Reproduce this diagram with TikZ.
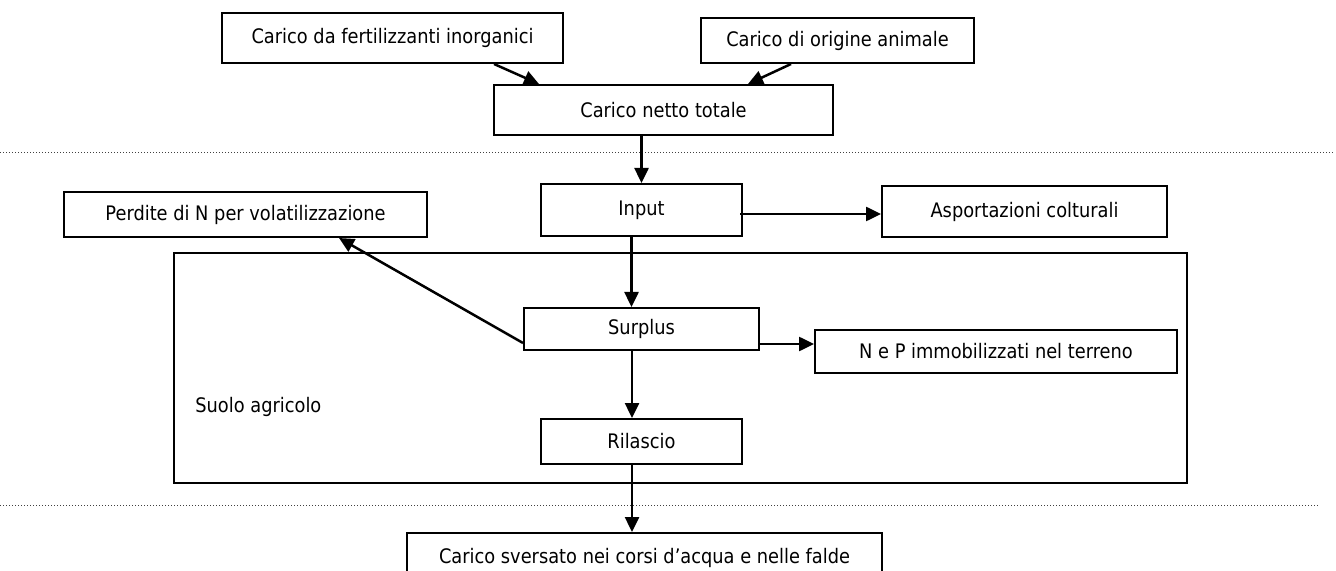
\documentclass[tikz,border=0pt]{standalone}
\usepackage{fontspec}
\setmainfont{DejaVu Sans}[FakeStretch=0.89]
\usepackage{tikz}
\usetikzlibrary{positioning,arrows.meta}
\tikzset{%
  flowBox/.style={%
    rectangle,
    draw=black,
    line width=1pt,
    inner sep=2pt,
    align=center,
    font=\fontsize{10}{12}\selectfont
  },
  flowArrow/.style={%
    -{Triangle[length=7.5pt,width=7pt]},
    line width=1.25pt
  },
  sepLine/.style={%
    line width=0.5pt,
    dash pattern=on 0.5pt off 1pt,
    color=black!75
  },
  soilBox/.style={%
    rectangle,
    draw=black,
    line width=0.85pt
  }
}

\begin{document}
\begin{tikzpicture}[x=0.5pt,y=-0.5pt]
  \useasboundingbox (0,0) rectangle (1336,571);

  % suolo agricolo
  \node[soilBox, minimum width=506.5pt, minimum height=115pt] (suolo) at (680.5,368) {};
  \node[anchor=west, inner sep=0pt, font=\fontsize{10}{12}\selectfont] (suoloLbl) at (195,407) {Suolo agricolo};

  % separatori
  \coordinate (topSepL) at (0,153);
  \coordinate (topSepR) at (1333,153);
  \coordinate (lowSepL) at (0,505);
  \coordinate (lowSepR) at (1320,505);
  \draw[sepLine] (topSepL) -- (topSepR);
  \draw[sepLine] (lowSepL) -- (lowSepR);

  % carichi in ingresso
  \node[flowBox, minimum width=170.5pt, minimum height=25pt] (fert) at (392.5,38) {Carico da fertilizzanti inorganici};
  \node[flowBox, minimum width=136.5pt, minimum height=22.5pt, right=68pt of fert, yshift=-1.25pt] (anim) {Carico di origine animale};
  \node[flowBox, minimum width=169.5pt, minimum height=25pt] (netto) at (663.5,110) {Carico netto totale};

  \draw[flowArrow] ([xshift=-35pt]fert.south east) -- ([xshift=23pt]netto.north west);
  \draw[flowArrow] ([xshift=45.5pt]anim.south west) -- ([xshift=-43pt]netto.north east);

  % bilancio nel suolo
  \node[flowBox, minimum width=100.5pt, minimum height=26pt] (input) at (641.5,210) {Input};
  \node[flowBox, minimum width=142.5pt, minimum height=25.5pt, right=69pt of input, yshift=-0.75pt] (asport) {Asportazioni colturali};
  \node[flowBox, minimum width=181.5pt, minimum height=22.5pt] (perdite) at (245.5,214.5) {Perdite di N per volatilizzazione};
  \node[flowBox, minimum width=117.5pt, minimum height=21pt, below=35pt of input] (surplus) {Surplus};
  \node[flowBox, minimum width=181pt, minimum height=21.5pt, right=27pt of surplus, yshift=-11.25pt] (nep) {N e P immobilizzati nel terreno};
  \node[flowBox, minimum width=100.5pt, minimum height=22.5pt, below=33.5pt of surplus] (rilascio) {Rilascio};
  \node[flowBox, minimum width=237.5pt, minimum height=25pt, below=33.5pt of rilascio, xshift=1.5pt] (sversato) {Carico sversato nei corsi d’acqua e nelle falde};

  \draw[flowArrow] (input.north |- netto.south) -- (input.north);
  \draw[flowArrow] ([xshift=-1.5pt,yshift=-2pt]input.east) -- ([yshift=-2pt]input.east -| asport.west);
  \draw[flowArrow] ([xshift=-5pt]input.south) -- ([xshift=-5pt]input.south |- surplus.north);
  \draw[flowArrow] ([yshift=4pt]surplus.south west) -- ([xshift=-44.5pt]perdite.south east);
  \draw[flowArrow] ([yshift=-7.5pt]surplus.east) -- ([yshift=-7.5pt]surplus.east -| nep.west);
  \draw[flowArrow] ([xshift=-4.75pt]surplus.south) -- ([xshift=-4.75pt]rilascio.north);
  \draw[flowArrow] ([xshift=-4.75pt]rilascio.south) -- ([xshift=-4.75pt]rilascio.south |- sversato.north);
\end{tikzpicture}
\end{document}
